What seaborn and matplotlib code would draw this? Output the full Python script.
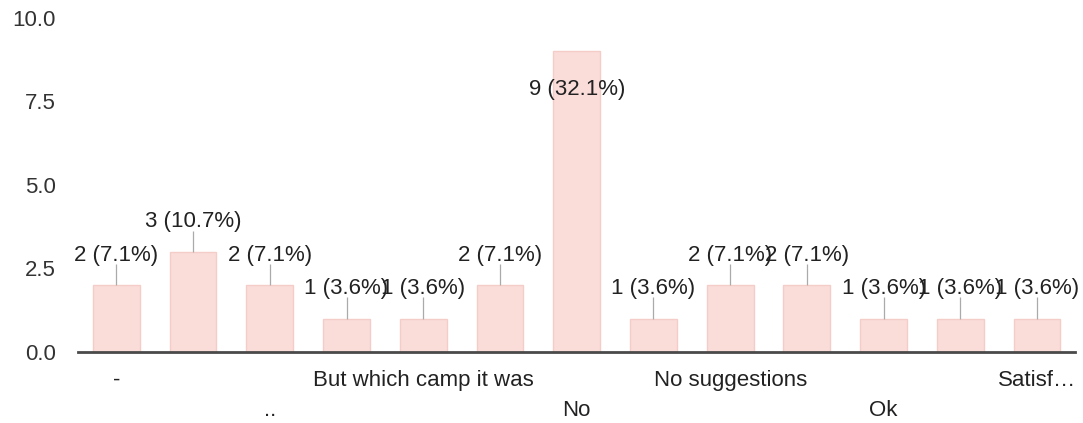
import matplotlib
matplotlib.use("Agg")
import matplotlib.pyplot as plt
import seaborn as sns
import pandas as pd

# responses (odd ones have no visible label in the chart)
categories = ["-", ".", "..", "All good", "But which camp it was", "Good",
              "No", "No comment", "No suggestions", "Nothing", "Ok",
              "Overall good", "Satisf…"]
counts = [2, 3, 2, 1, 1, 2, 9, 1, 2, 2, 1, 1, 1]

total = sum(counts)
pct = [c / total * 100 for c in counts]

df = pd.DataFrame({"Response": categories, "Count": counts})

sns.set_theme(style="white")
plt.rcParams['font.family'] = ['Liberation Sans', 'DejaVu Sans']

fig = plt.figure(figsize=(10.83, 4.23), dpi=100)
ax = fig.add_axes([0.072, 0.168, 0.921, 0.79])

sns.barplot(data=df, x="Response", y="Count", order=categories,
            color="#fadcd9", edgecolor="#f5cdc8", linewidth=1.0,
            width=0.61, saturation=1, ax=ax)

ax.set_ylim(0, 10)
ax.set_xlim(-0.5, len(categories) - 0.5)
ax.set_yticks([0, 2.5, 5, 7.5, 10])
ax.set_yticklabels(["0.0", "2.5", "5.0", "7.5", "10.0"])

# only every second label shown, staggered on two rows
xlabels = []
for i, c in enumerate(categories):
    if i % 2:
        xlabels.append("")
    elif i % 4 == 2:
        xlabels.append("\n" + c)
    else:
        xlabels.append(c)
ax.set_xticks(range(len(categories)))
ax.set_xticklabels(xlabels, linespacing=1.55)

ax.tick_params(axis="y", length=0, pad=16, labelsize=16, labelcolor="#333333")
ax.tick_params(axis="x", length=0, pad=13, labelsize=16, labelcolor="#222222")
ax.set_xlabel("")
ax.set_ylabel("")

for s in ["top", "right", "left"]:
    ax.spines[s].set_visible(False)
ax.spines["bottom"].set_color("#4a4a4a")
ax.spines["bottom"].set_linewidth(2)

for i, (c, p) in enumerate(zip(counts, pct)):
    txt = f"{c} ({p:.1f}%)"
    if c + 1.2 > ax.get_ylim()[1] - 0.5:
        ax.text(i, c - 1.15, txt, ha="center", va="center",
                fontsize=16, color="#222222")
    else:
        ax.vlines(i, c, c + 0.63, color="#aaaaaa", linewidth=0.9)
        ax.text(i, c + 0.9, txt, ha="center", va="center",
                fontsize=16, color="#222222")

plt.savefig("out.png", dpi=100)
